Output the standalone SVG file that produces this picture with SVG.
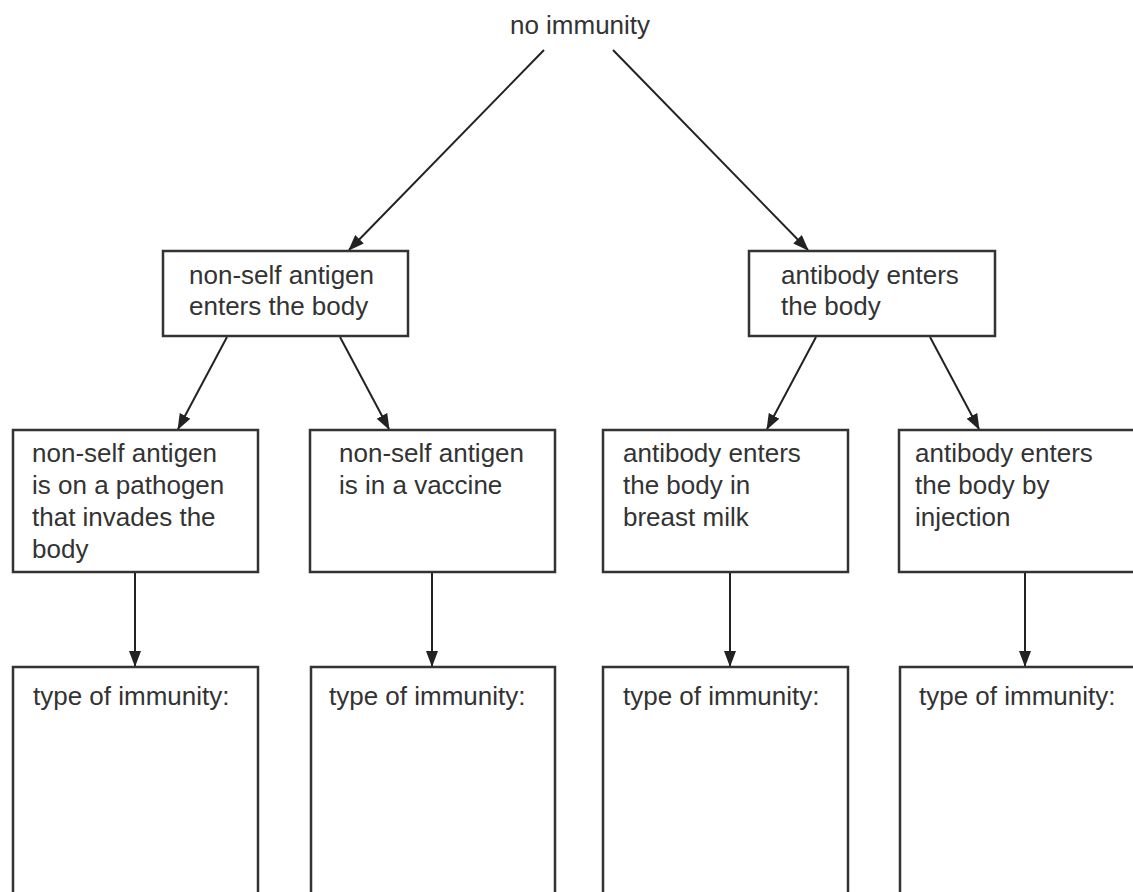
<svg xmlns="http://www.w3.org/2000/svg" width="1133" height="892" viewBox="0 0 1133 892">
<style>
  .box { fill: #ffffff; stroke: #333333; stroke-width: 2.5; }
  .t { font-family: "Liberation Sans", Arial, sans-serif; font-size: 26px; fill: #333333; }
  .c { stroke: #222222; stroke-width: 2; fill: none; marker-end: url(#ah); }
</style>
<defs>
  <marker id="ah" markerUnits="userSpaceOnUse" markerWidth="16" markerHeight="12" refX="15" refY="6" orient="auto">
    <path d="M0,0 L16,6 L0,12 z" fill="#222222"/>
  </marker>
</defs>
<rect width="1133" height="892" fill="#ffffff"/>

<g id="connectors">
  <line class="c" x1="544" y1="50" x2="349" y2="250"/>
  <line class="c" x1="613" y1="50" x2="808" y2="250"/>
  <line class="c" x1="227" y1="337" x2="178" y2="429"/>
  <line class="c" x1="340" y1="337" x2="389" y2="429"/>
  <line class="c" x1="816" y1="337" x2="767" y2="429"/>
  <line class="c" x1="930" y1="337" x2="979" y2="429"/>
  <line class="c" x1="135" y1="572" x2="135" y2="666"/>
  <line class="c" x1="432" y1="572" x2="432" y2="666"/>
  <line class="c" x1="730" y1="572" x2="730" y2="666"/>
  <line class="c" x1="1025" y1="572" x2="1025" y2="666"/>
</g>

<g id="no-immunity">
  <text class="t" x="580" y="34" text-anchor="middle">no immunity</text>
</g>

<g id="antigen-enters">
  <rect class="box" x="163" y="251" width="245" height="85"/>
  <text class="t" x="189" y="284">non-self antigen</text>
  <text class="t" x="189" y="315">enters the body</text>
</g>

<g id="antibody-enters">
  <rect class="box" x="749" y="251" width="246" height="85"/>
  <text class="t" x="781" y="284">antibody enters</text>
  <text class="t" x="781" y="315">the body</text>
</g>

<g id="pathogen">
  <rect class="box" x="13" y="430" width="245" height="142"/>
  <text class="t" x="32" y="462">non-self antigen</text>
  <text class="t" x="32" y="494">is on a pathogen</text>
  <text class="t" x="32" y="526">that invades the</text>
  <text class="t" x="32" y="558">body</text>
</g>

<g id="vaccine">
  <rect class="box" x="310" y="430" width="245" height="142"/>
  <text class="t" x="339" y="462">non-self antigen</text>
  <text class="t" x="339" y="494">is in a vaccine</text>
</g>

<g id="breast-milk">
  <rect class="box" x="603" y="430" width="245" height="142"/>
  <text class="t" x="623" y="462">antibody enters</text>
  <text class="t" x="623" y="494">the body in</text>
  <text class="t" x="623" y="526">breast milk</text>
</g>

<g id="injection">
  <rect class="box" x="899" y="430" width="245" height="142"/>
  <text class="t" x="915" y="462">antibody enters</text>
  <text class="t" x="915" y="494">the body by</text>
  <text class="t" x="915" y="526">injection</text>
</g>

<g id="type-1">
  <rect class="box" x="13" y="667" width="245" height="240"/>
  <text class="t" x="33" y="705">type of immunity:</text>
</g>
<g id="type-2">
  <rect class="box" x="311" y="667" width="244" height="240"/>
  <text class="t" x="329" y="705">type of immunity:</text>
</g>
<g id="type-3">
  <rect class="box" x="603" y="667" width="245" height="240"/>
  <text class="t" x="623" y="705">type of immunity:</text>
</g>
<g id="type-4">
  <rect class="box" x="900" y="667" width="245" height="240"/>
  <text class="t" x="919" y="705">type of immunity:</text>
</g>
</svg>
